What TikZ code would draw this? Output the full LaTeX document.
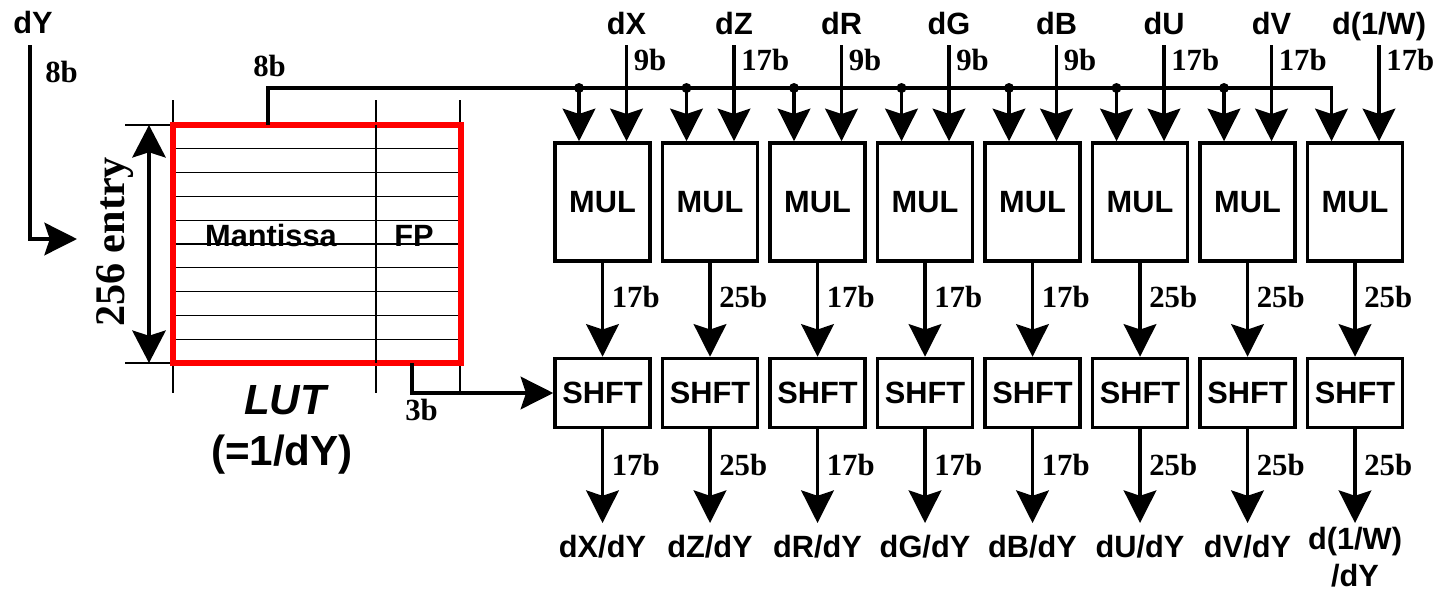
\documentclass[tikz,border=0pt]{standalone}
\usepackage{fontspec}
\setmainfont{Liberation Sans}
\newfontfamily\bitfont{Liberation Serif}
\usetikzlibrary{arrows.meta}

\tikzstyle{block} = [draw,line width=2pt,minimum width=1.9cm,inner sep=0pt,font=\bfseries\fontsize{17.5}{21}\selectfont]
\tikzstyle{mul block} = [block,minimum height=2.36cm]
\tikzstyle{shft block} = [block,minimum height=1.38cm]
\tikzstyle{wire} = [draw,line width=1.9pt]
\tikzstyle{bus arrow} = [wire,-{Stealth[length=18.5pt,width=18.5pt,inset=3pt]}]
\tikzstyle{dim arrow} = [wire,{Stealth[length=18.5pt,width=19pt,inset=3pt]}-{Stealth[length=18.5pt,width=19pt,inset=3pt]}]
\tikzstyle{bits} = [anchor=base west,inner sep=0pt,font=\bitfont\bfseries\fontsize{17.5}{21}\selectfont]
\tikzstyle{signal} = [inner sep=0pt,align=center,font=\bfseries\fontsize{17.5}{21}\selectfont]
\tikzstyle{grid line} = [draw,line width=0.7pt]
\tikzstyle{tap dot} = [circle,fill=black,inner sep=0pt,minimum size=0.2cm]

\begin{document}
\begin{tikzpicture}[x=0.2mm,y=-0.2mm]
			\useasboundingbox (0,0) rectangle (1444,591);
			% The reciprocal table
			\foreach \r in {1,...,9}
			 \path[grid line] (173,{125+23.8*\r}) -- (461,{125+23.8*\r});
			\foreach \cx in {173,376,460}
			 \path[grid line] (\cx,100) -- (\cx,393);
			\path[grid line] (125,125) -- (461,125);
			\path[grid line] (125,363) -- (461,363);
			\node[draw=red,line width=3pt,minimum width=5.76cm,minimum height=4.76cm,inner sep=0pt] (lut) at (317,244) {};
			\path[grid line] (376,125) -- (376,363);
			\node[signal] (mant) at (271,236) {Mantissa};
			\node[signal] (fp) at (414,236) {FP};
			\node[font=\bfseries\itshape\fontsize{24}{29}\selectfont] (lutname) at (285,400) {LUT};
			\node[font=\bfseries\fontsize{24}{29}\selectfont] (lutrecip) at (282,455) {(=1/dY)};
			\coordinate (dimtop) at (149,125);
			\coordinate (dimbot) at (149,363);
			\path[dim arrow] (dimtop) -- (dimbot);
			\node[rotate=90,inner sep=0pt,font=\bitfont\bfseries\fontsize{24}{29}\selectfont] (entries) at (115,242) {256 entry};
			% dY into the table
			\node[signal,anchor=base] (dy) at (33,33) {dY};
			\node[bits] (dybits) at (45,82) {8b};
			\coordinate (dystart) at (30,45);
			\coordinate (dyend) at (77,239);
			\path[bus arrow] (dystart) |- (dyend);
			% One MUL and one SHFT per gradient
			\foreach \i/\name/\inbits/\outbits/\res/\rtop in {1/dX/9b/17b/{dX/dY}/535, 2/dZ/17b/25b/{dZ/dY}/535, 3/dR/9b/17b/{dR/dY}/535, 4/dG/9b/17b/{dG/dY}/535, 5/dB/9b/17b/{dB/dY}/535, 6/dU/17b/25b/{dU/dY}/535, 7/dV/17b/25b/{dV/dY}/535, 8/{d(1/W)}/17b/25b/{d(1/W)\\/dY}/527}
			{
				\pgfmathsetmacro\cx{602.5+107.5*(\i-1)}
				\node[mul block] (m\i) at (\cx,202) {MUL};
				\node[shft block] (s\i) at (\cx,393) {SHFT};
				\node[signal,anchor=base] (n\i) at (\cx+24,34) {\name};
				\node[bits] at (\cx+31,70) {\inbits};
				\node[bits] at (\cx+9,307) {\outbits};
				\node[bits] at (\cx+9,475) {\outbits};
				\node[signal,anchor=north] (r\i) at (\cx,\rtop) {\res};
				\coordinate (in\i) at (\cx+24,45);
				\coordinate (tap\i) at (\cx-23.5,88);
				\coordinate (out\i) at (\cx,523);
				\path[bus arrow] (in\i) -- (in\i |- m\i.north);
				\path[bus arrow] (m\i) -- (s\i);
				\path[bus arrow] (s\i) -- (out\i);
				\ifnum\i<8
					\node[tap dot] at (tap\i) {};
					\path[bus arrow] (tap\i) -- (tap\i |- m\i.north);
				\fi
			}
			% Mantissa bus and shift amount
			\coordinate (lutout) at (268,125);
			\node[bits] (lutbits) at (253,76) {8b};
			\path[bus arrow] (lutout) |- (tap8) -- (tap8 |- m8.north);
			\coordinate (fpout) at (412,363);
			\node[bits] (fpbits) at (405,420) {3b};
			\path[bus arrow] (fpout) |- (s1.west);
\end{tikzpicture}
\end{document}
